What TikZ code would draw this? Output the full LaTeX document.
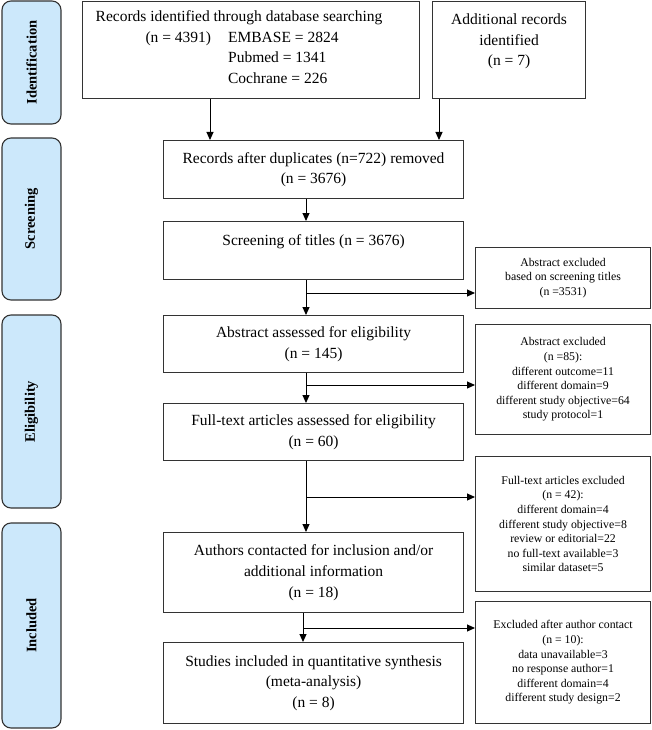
\documentclass[tikz,border=0pt]{standalone}
\usepackage{fontspec}
\setmainfont{Liberation Serif}
\usepackage{xcolor}
\definecolor{phase_blue}{HTML}{CCE8FB}
\definecolor{line_gray}{HTML}{333333}
\usetikzlibrary{arrows.meta,positioning,calc}

\begin{document}
\begin{tikzpicture}[x=1pt,y=-1pt]
\tikzset{
    box/.style={draw=line_gray, line width=1.1pt, inner sep=0pt, align=center, anchor=north west, font=\fontsize{15.5}{20.7}\selectfont},
    smallbox/.style={box, font=\fontsize{11.8}{14.6}\selectfont},
    phase/.style={draw=line_gray, line width=1.1pt, fill=phase_blue, rounded corners=9pt, rotate=90, minimum height=59pt, inner sep=0pt, font=\bfseries\fontsize{14.5}{18}\selectfont},
    edge/.style={-{Triangle[length=8pt,width=7pt]}, line width=1pt, draw=black}
}
\useasboundingbox (0,0) rectangle (651,730);
  % phases
\node[phase, minimum width=123pt] (id) at (31.5,62.5) {Identification};
\node[phase, minimum width=162pt] (scr) at (31.5,219) {Screening};
\node[phase, minimum width=193pt] (elig) at (31.5,411.5) {Eligibility};
\node[phase, minimum width=205pt] (incl) at (31.5,625.5) {Included};
  % boxes
\node[box, minimum width=337pt, minimum height=97pt] (1) at (82,1) {Records identified through database searching\hspace{24pt}\mbox{}\\
  \begin{tabular}[t]{@{}l@{\hspace{17pt}}l@{}}(n = 4391) & EMBASE = 2824\\ & Pubmed = 1341\\ & Cochrane = 226\end{tabular}\hspace{18pt}\mbox{}};
\node[box, minimum width=153pt, minimum height=97pt] (2) at (432,1) {Additional records\\identified\\(n = 7)\\\mbox{}};
\node[box, minimum width=300pt, minimum height=58pt] (3) at (163,140) {Records after duplicates (n=722) removed\\(n = 3676)};
\node[box, minimum width=300pt, minimum height=58pt] (4) at (163,221) {Screening of titles (n = 3676)\\\mbox{}};
\node[box, minimum width=300pt, minimum height=57pt] (5) at (163,315) {Abstract assessed for eligibility\\(n = 145)};
\node[box, minimum width=300pt, minimum height=57pt] (6) at (163,403) {Full-text articles assessed for eligibility\\(n = 60)};
\node[box, minimum width=300pt, minimum height=80pt] (7) at (163,532) {Authors contacted for inclusion and/or\\additional information\\(n = 18)};
\node[box, minimum width=300pt, minimum height=81pt] (8) at (163,642) {Studies included in quantitative synthesis\\(meta-analysis)\\(n = 8)};
  % excluded
\node[smallbox, minimum width=175pt, minimum height=61pt] (9) at (475,247) {Abstract excluded\\based on screening titles\\(n =3531)};
\node[smallbox, minimum width=175pt, minimum height=110pt] (10) at (475,324) {Abstract excluded\\(n =85):\\different outcome=11\\different domain=9\\different study objective=64\\study protocol=1};
\node[smallbox, minimum width=175pt, minimum height=135pt] (11) at (475,456) {Full-text articles excluded\\(n = 42):\\different domain=4\\different study objective=8\\review or editorial=22\\no full-text available=3\\similar dataset=5};
\node[smallbox, minimum width=175pt, minimum height=122pt] (12) at (475,601) {Excluded after author contact\\(n = 10):\\data unavailable=3\\no response author=1\\different domain=4\\different study design=2};
  % edges
\coordinate (a) at (210,0);
\coordinate (b) at (439,0);
\coordinate (c) at (306,293);
\coordinate (d) at (306,385);
\coordinate (e) at (306,497);
\coordinate (f) at (303,628);
\draw[edge] (1.south -| a) -- (3.north -| a);
\draw[edge] (2.south -| b) -- (3.north -| b);
\draw[edge] (3.south -| c) -- (4.north -| c);
\draw[edge] (4.south -| c) -- (5.north -| c);
\draw[edge] (c) -- (c -| 9.west);
\draw[edge] (5.south -| d) -- (6.north -| d);
\draw[edge] (d) -- (d -| 10.west);
\draw[edge] (6.south -| e) -- (7.north -| e);
\draw[edge] (e) -- (e -| 11.west);
\draw[edge] (7.south -| f) -- (8.north -| f);
\draw[edge] (f) -- (f -| 12.west);
\end{tikzpicture}
\end{document}
